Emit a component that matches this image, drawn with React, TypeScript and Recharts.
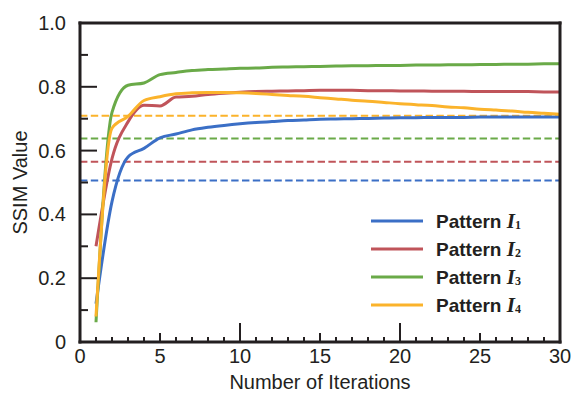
import { LineChart, Line, XAxis, YAxis, ReferenceLine, Label } from 'recharts';

const INK = '#231f20';
const FONT = '"Liberation Sans", Arial, Helvetica, sans-serif';

// plot box edges, in px, fixed by the chart margins below
const PLOT_L = 80;
const PLOT_R = 560;
const PLOT_T = 23;
const PLOT_B = 342;

// iteration numbers (x)
const iterations = [
  1, 2, 3, 4, 5, 6, 7, 8, 9, 10, 11, 12, 13, 14, 15,
  16, 17, 18, 19, 20, 21, 22, 23, 24, 25, 26, 27, 28, 29, 30,
];

// SSIM per iteration
const pattern1 = [
  0.12, 0.44, 0.58, 0.607, 0.64, 0.652, 0.665, 0.673, 0.679, 0.684,
  0.688, 0.691, 0.694, 0.696, 0.698, 0.699, 0.7, 0.701, 0.702, 0.703,
  0.703, 0.704, 0.704, 0.704, 0.705, 0.705, 0.705, 0.705, 0.705, 0.705,
];
const pattern2 = [
  0.3, 0.575, 0.69, 0.742, 0.74, 0.768, 0.77, 0.776, 0.78, 0.783,
  0.785, 0.786, 0.787, 0.788, 0.789, 0.789, 0.789, 0.788, 0.788, 0.787,
  0.787, 0.786, 0.786, 0.786, 0.785, 0.785, 0.785, 0.785, 0.784, 0.784,
];
const pattern3 = [
  0.062, 0.72, 0.805, 0.812, 0.838, 0.845, 0.851, 0.854, 0.856, 0.858,
  0.859, 0.861, 0.862, 0.863, 0.864, 0.865, 0.866, 0.866, 0.867, 0.867,
  0.868, 0.868, 0.869, 0.869, 0.87, 0.87, 0.871, 0.871, 0.872, 0.872,
];
const pattern4 = [
  0.08, 0.67, 0.707, 0.757, 0.769, 0.778, 0.781, 0.782, 0.782, 0.781,
  0.779, 0.776, 0.773, 0.77, 0.766, 0.762, 0.758, 0.755, 0.751, 0.747,
  0.744, 0.741, 0.737, 0.734, 0.73, 0.727, 0.724, 0.72, 0.717, 0.714,
];

// dashed reference levels
const baselines = [0.506, 0.565, 0.638, 0.709];

const seriesKeys = ['p1', 'p2', 'p3', 'p4'];
const seriesSubs = ['1', '2', '3', '4'];
const colors = ['#3b6fc6', '#c0545a', '#6aaa48', '#fbb32b'];

const xTicks = [
  0, 1, 2, 3, 4, 5, 6, 7, 8, 9, 10, 11, 12, 13, 14, 15,
  16, 17, 18, 19, 20, 21, 22, 23, 24, 25, 26, 27, 28, 29, 30,
];
const yTicks = [0, 0.1, 0.2, 0.3, 0.4, 0.5, 0.6, 0.7, 0.8, 0.9, 1];

const data = iterations.map((it, i) => ({
  it,
  p1: pattern1[i],
  p2: pattern2[i],
  p3: pattern3[i],
  p4: pattern4[i],
}));

// x from the axis scale, the other side pinned to the frame
const XTick = ({ x, payload }: any) => {
  const v = payload.value;
  const len = v % 10 === 0 ? 19 : v % 5 === 0 ? 9 : 5;
  return (
    <g>
      <line x1={x} x2={x} y1={PLOT_B} y2={PLOT_B - len} stroke={INK} strokeWidth={2} />
      {v % 5 === 0 && (
        <text x={x} y={PLOT_B + 21} textAnchor="middle" fontSize={20} fontFamily={FONT} fill={INK}>
          {v}
        </text>
      )}
    </g>
  );
};

const YTick = ({ y, payload }: any) => {
  const v = payload.value;
  const major = Math.round(v * 10) % 2 === 0;
  return (
    <g>
      <line x1={PLOT_L} x2={PLOT_L + (major ? 17 : 8)} y1={y} y2={y} stroke={INK} strokeWidth={2} />
      {major && (
        <text x={PLOT_L - 14} y={y + 7} textAnchor="end" fontSize={20} fontFamily={FONT} fill={INK}>
          {v === 0 ? '0' : v.toFixed(1)}
        </text>
      )}
    </g>
  );
};

const RightTick = ({ y, payload }: any) => {
  const major = Math.round(payload.value * 10) % 2 === 0;
  return <line x1={PLOT_R} x2={PLOT_R - (major ? 17 : 8)} y1={y} y2={y} stroke={INK} strokeWidth={2} />;
};

const frame = { stroke: INK, strokeWidth: 3, strokeLinecap: 'square' as const };

export default function App() {
  return (
    <div style={{ position: 'absolute', left: 0, top: 0, width: 572, height: 396, background: '#fff' }}>
      <LineChart width={572} height={396} data={data} margin={{ top: 22, right: 11, bottom: 24, left: 20 }}>
        <XAxis
          dataKey="it"
          type="number"
          domain={[0, 30]}
          ticks={xTicks}
          interval={0}
          height={30}
          tickLine={false}
          tick={<XTick />}
          axisLine={frame}
        >
          <Label
            value="Number of Iterations"
            position="bottom"
            offset={3}
            style={{ fontSize: 20, fontFamily: FONT, fill: INK }}
          />
        </XAxis>
        <XAxis xAxisId="top" orientation="top" type="number" domain={[0, 30]} height={1} tick={false} tickLine={false} axisLine={frame} />
        <YAxis
          type="number"
          domain={[0, 1]}
          ticks={yTicks}
          interval={0}
          width={60}
          tickLine={false}
          tick={<YTick />}
          axisLine={frame}
        >
          <Label
            value="SSIM Value"
            angle={-90}
            position="insideLeft"
            offset={0}
            style={{ fontSize: 20, fontFamily: FONT, fill: INK, textAnchor: 'middle' }}
          />
        </YAxis>
        <YAxis
          yAxisId="right"
          orientation="right"
          type="number"
          domain={[0, 1]}
          ticks={yTicks}
          interval={0}
          width={1}
          tickLine={false}
          tick={<RightTick />}
          axisLine={frame}
        />
        {baselines.map((b, i) => (
          <ReferenceLine key={i} y={b} stroke={colors[i]} strokeWidth={2} strokeDasharray="7.4 3.4" />
        ))}
        {seriesKeys.map((k, i) => (
          <Line
            key={k}
            dataKey={k}
            type="monotone"
            stroke={colors[i]}
            strokeWidth={3}
            dot={false}
            isAnimationActive={false}
          />
        ))}
      </LineChart>
      <svg width={572} height={396} style={{ position: 'absolute', left: 0, top: 0, pointerEvents: 'none' }}>
        {seriesKeys.map((k, i) => {
          const cy = 221 + i * 28;
          return (
            <g key={k}>
              <line x1={371} x2={423} y1={cy} y2={cy} stroke={colors[i]} strokeWidth={3} />
              <text x={436} y={cy + 7} fontSize={19} fontWeight="bold" fontFamily={FONT} fill={INK}>
                Pattern{' '}
                <tspan fontFamily='"Liberation Serif", "Times New Roman", serif' fontStyle="italic" fontSize={21}>
                  I
                </tspan>
                <tspan fontFamily='"Liberation Serif", "Times New Roman", serif' fontSize={12} dy={1}>
                  {seriesSubs[i]}
                </tspan>
              </text>
            </g>
          );
        })}
      </svg>
    </div>
  );
}
